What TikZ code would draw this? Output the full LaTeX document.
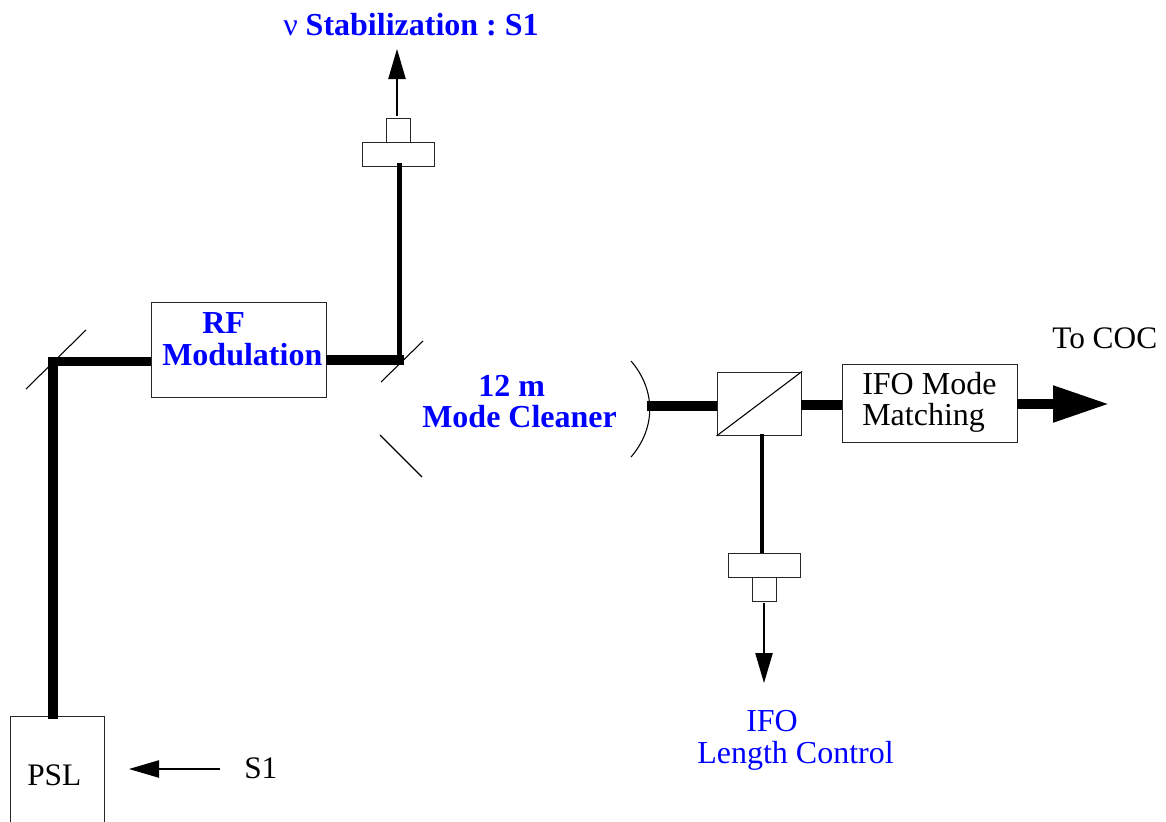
\documentclass[tikz,border=0pt]{standalone}
\usepackage{fontspec}
\setmainfont{Liberation Serif}
\usetikzlibrary{arrows.meta}
\definecolor{labelblue}{RGB}{0,0,255}
\frenchspacing
\tikzset{
  x=0.75pt,y=-0.75pt,
  boxnode/.style={draw=black!85,line width=1.1pt,fill=white,inner sep=0,anchor=north west},
  txt/.style={inner sep=0,anchor=base west,font=\fontsize{24}{24}\selectfont},
  smalltxt/.style={inner sep=0,anchor=base west,font=\fontsize{23.5}{24}\selectfont},
  bluebold/.style={txt,text=labelblue,font=\fontsize{24}{24}\selectfont\bfseries},
  bluetxt/.style={txt,text=labelblue},
  beam/.style={line width=7pt},
  thinbeam/.style={line width=3.4pt},
  optic/.style={line width=0.8pt},
  sig/.style={line width=0.9pt,-{Triangle[length=22.5pt,width=13pt]}},
  bigarrow/.style={line width=7pt,-{Triangle[length=42pt,width=26pt]}}
}
\begin{document}
\begin{tikzpicture}
\useasboundingbox (0,0) rectangle (1166,821);
\clip (0,0) rectangle (1166,821);
% optics
\coordinate (m1a) at (26,389); \coordinate (m1b) at (86,330);
\coordinate (m2a) at (381,382); \coordinate (m2b) at (423,341);
\coordinate (m3a) at (380,435); \coordinate (m3b) at (422,477);
\coordinate (cma) at (631,361); \coordinate (cmb) at (631,457);
\draw[optic] (m1a) -- (m1b);
\draw[optic] (m2a) -- (m2b);
\draw[optic] (m3a) -- (m3b);
\draw[optic] (cma) .. controls (656,390) and (656,428) .. (cmb);
% boxes
\node[boxnode,minimum width=70.5pt,minimum height=85pt] (psl) at (10,715.5) {};
\node[boxnode,minimum width=131.25pt,minimum height=71.25pt] (rf) at (150.5,301.5) {};
\node[boxnode,minimum width=63pt,minimum height=47.25pt] (bs) at (716.5,371.5) {};
\node[boxnode,minimum width=131.25pt,minimum height=58.5pt] (mm) at (841.5,363.5) {};
\node[boxnode,minimum width=54pt,minimum height=18pt] (pd1) at (361.5,141.5) {};
\node[boxnode,minimum width=18pt,minimum height=18pt] (pd1top) at (385.5,117.5) {};
\node[boxnode,minimum width=54pt,minimum height=18pt] (pd2) at (727.5,552.5) {};
\node[boxnode,minimum width=18pt,minimum height=18pt] (pd2bot) at (751.5,576.5) {};
\draw[optic] (bs.south west) -- (bs.north east);
% beams
\coordinate (c1) at (53,361.5);
\coordinate (pslin) at (53,719);
\coordinate (m2c) at (404,360);
\coordinate (rfout) at (326,360);
\coordinate (c2) at (399.5,360);
\coordinate (pd1in) at (399.5,163);
\coordinate (cmin) at (647,406);
\coordinate (bsl) at (717,406);
\coordinate (bsr) at (801,405);
\coordinate (mml) at (842,405);
\coordinate (mmr) at (1017,404);
\coordinate (coc) at (1109,404);
\coordinate (bsb) at (762,434);
\coordinate (pd2in) at (762,553);
\draw[beam] (pslin) -- (c1) -- (151,361.5);
\draw[beam] (rfout) -- (m2c);
\draw[thinbeam] (c2) -- (pd1in);
\draw[beam] (cmin) -- (bsl);
\draw[beam] (bsr) -- (mml);
\draw[bigarrow] (mmr) -- (coc);
\draw[thinbeam] (bsb) -- (pd2in);
% signal arrows
\coordinate (s1a) at (397,116); \coordinate (s1b) at (397,49);
\coordinate (s2a) at (764,603); \coordinate (s2b) at (764,683);
\coordinate (s3a) at (220,769); \coordinate (s3b) at (129,769);
\draw[sig] (s1a) -- (s1b);
\draw[sig] (s2a) -- (s2b);
\draw[sig] (s3a) -- (s3b);
% labels
\node[bluebold] (t1) at (283,36) {{\mdseries ν} Stabilization : S1};
\node[bluebold] (t2) at (202,333) {RF};
\node[bluebold] (t3) at (162,365) {Modulation};
\node[bluebold] (t4) at (478,396) {12 m};
\node[bluebold] (t5) at (422,427) {Mode Cleaner};
\node[txt] (t6) at (862,394) {IFO Mode};
\node[txt] (t7) at (862,425) {Matching};
\node[smalltxt] (t8) at (1052,348) {To COC};
\node[smalltxt] (t9) at (27,785) {PSL};
\node[smalltxt] (t10) at (244,778) {S1};
\node[bluetxt] (t11) at (746,731) {IFO};
\node[bluetxt] (t12) at (697,763) {Length Control};
\end{tikzpicture}
\end{document}
